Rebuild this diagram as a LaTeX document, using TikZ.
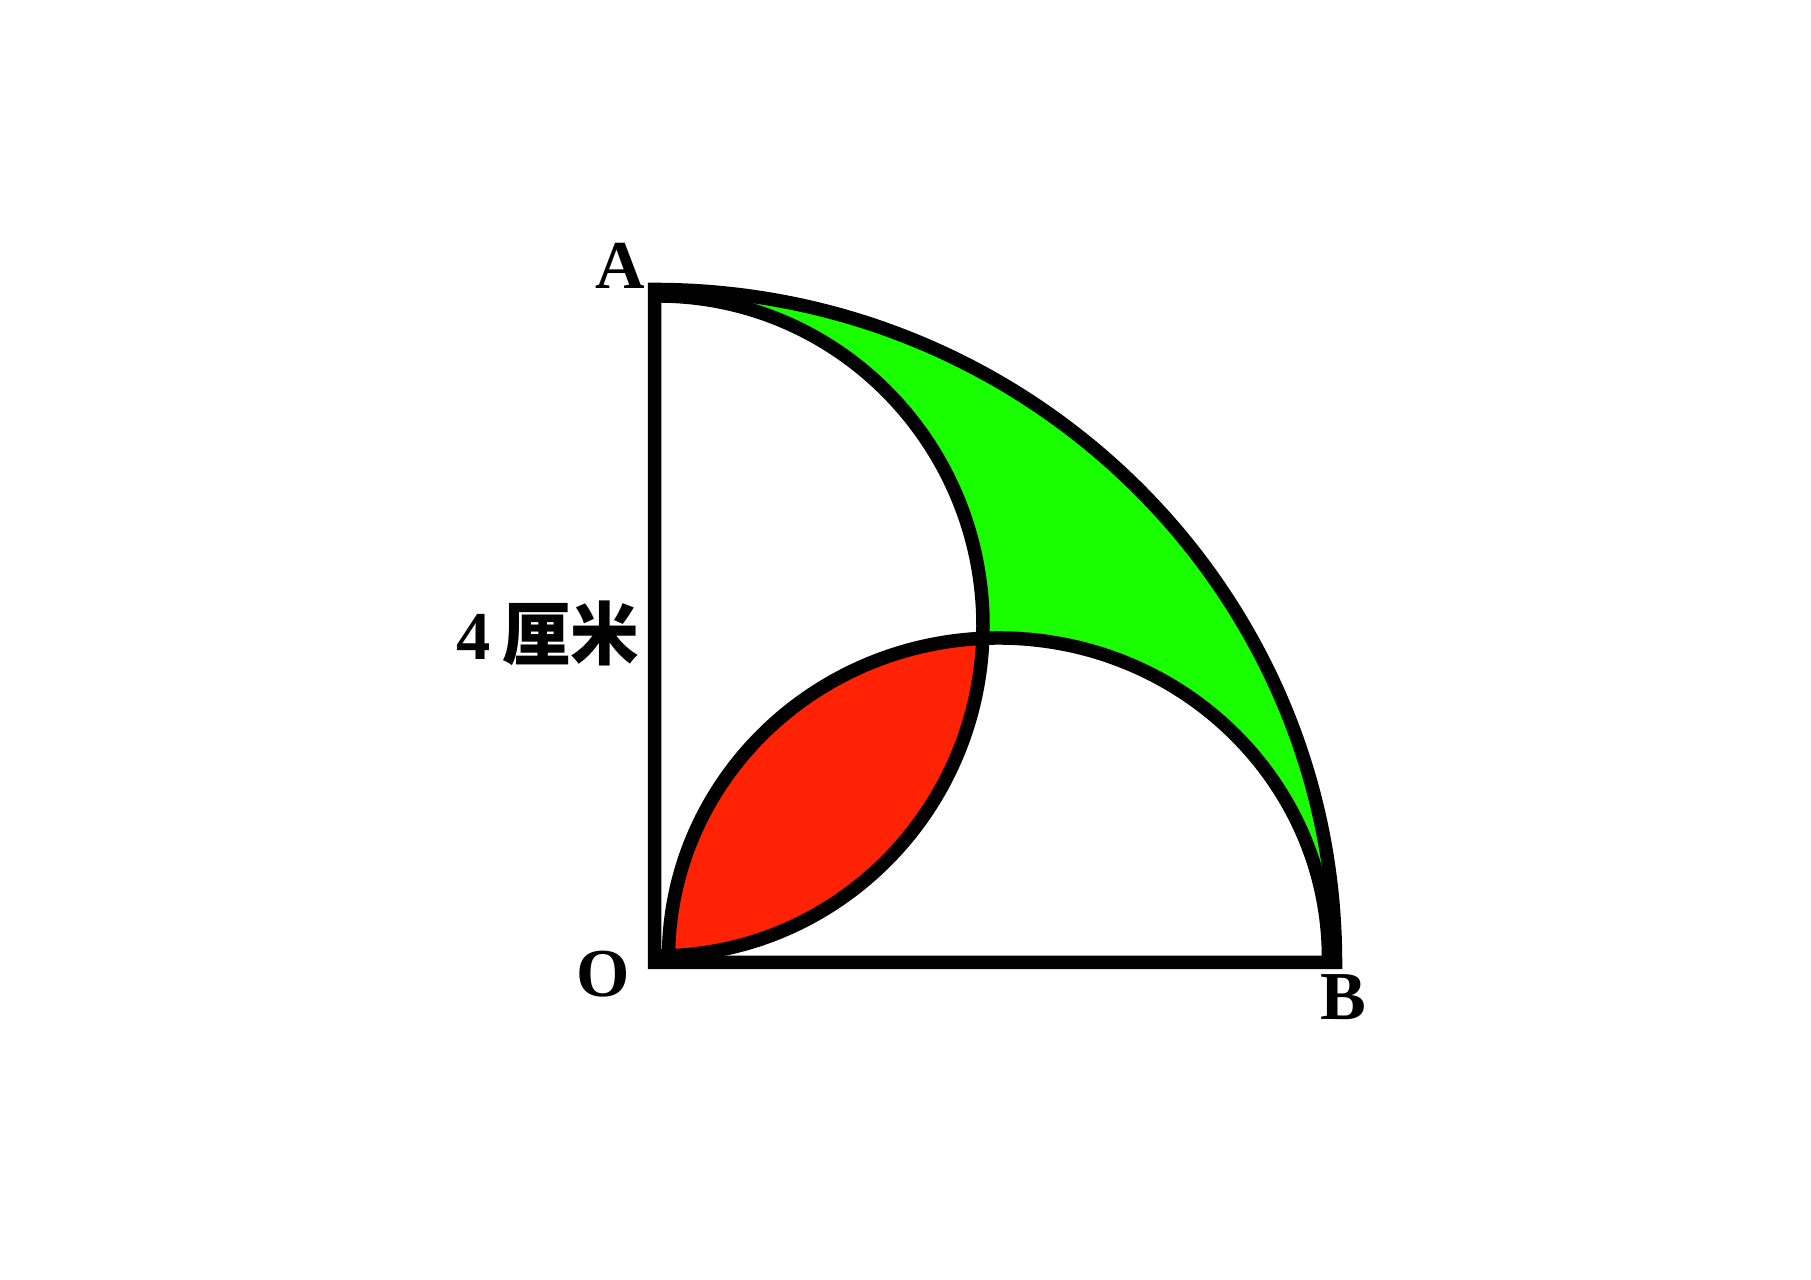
\documentclass[tikz,border=0pt]{standalone}
\usepackage{fontspec}
\setmainfont{Liberation Serif}
\newfontfamily\cjk{Noto Sans CJK SC}
\definecolor{leafgreen}{RGB}{25,255,0}
\definecolor{lensred}{RGB}{255,34,5}
\begin{document}
\begin{tikzpicture}[x=0.01cm,y=0.01cm,
  edge/.style={line width=0.135cm,line join=miter,black},
  lbl/.style={font=\fontsize{19.5}{22}\selectfont\bfseries,inner sep=0pt}]
\useasboundingbox (0,0) rectangle (1811,1280);
\coordinate (O) at (654.5,317.5);
\coordinate (A) at (654.5,990.5);
\coordinate (B) at (1335.5,317.5);
\coordinate (P) at (658,984);
\coordinate (Q) at (668.5,322);
% green quarter disc
\fill[leafgreen] (O) -- (A) arc[start angle=90,end angle=0,x radius=681,y radius=673] -- cycle;
% white half ellipses
\fill[white] (P) arc[start angle=90,end angle=-90,x radius=325,y radius=330] -- cycle;
\fill[white] (Q) arc[start angle=180,end angle=0,x radius=330,y radius=320] -- cycle;
% red lens
\begin{scope}
  \clip (P) arc[start angle=90,end angle=-90,x radius=325,y radius=330] -- cycle;
  \fill[lensred] (Q) arc[start angle=180,end angle=0,x radius=330,y radius=320] -- cycle;
\end{scope}
% strokes
\draw[edge] (P) arc[start angle=90,end angle=-90,x radius=325,y radius=330];
\draw[edge] (Q) arc[start angle=180,end angle=0,x radius=330,y radius=320];
\draw[edge] (O) -- (A) arc[start angle=90,end angle=0,x radius=681,y radius=673] -- cycle;
% labels
\node[lbl] (la) at (620,1014) {A};
\node[lbl] (lo) at (603,306) {O};
\node[lbl] (lb) at (1343,283) {B};
\node[lbl] (len) at (548,647) {4\,{\cjk 厘米}};
\end{tikzpicture}
\end{document}
